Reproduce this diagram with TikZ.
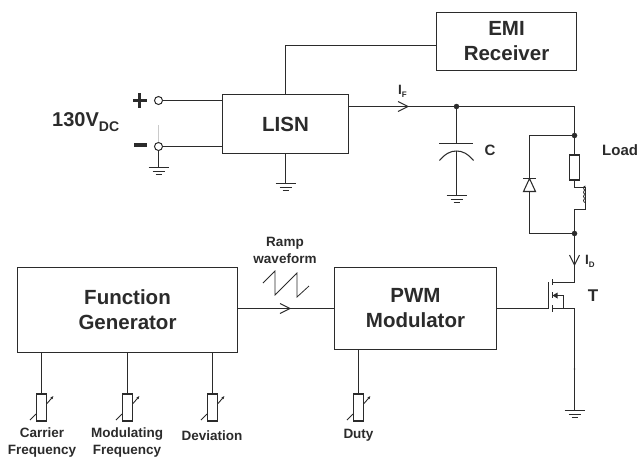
\documentclass[tikz,border=0pt]{standalone}
\usepackage{fontspec}
\setmainfont{Liberation Sans}
\usetikzlibrary{arrows.meta,calc}
\definecolor{ink}{HTML}{2B2B2B}
\tikzset{
  wire/.style={draw=ink,line width=1.05pt},
  blockbox/.style={draw=ink,line width=1.2pt,fill=white,inner sep=0pt,align=center,font=\bfseries\fontsize{20.5}{25}\selectfont,text=ink},
  lbl/.style={inner sep=0pt,align=center,font=\bfseries\fontsize{13.5}{17}\selectfont,text=ink},
  biglbl/.style={inner sep=0pt,font=\bfseries\fontsize{15}{18}\selectfont,text=ink},
  termc/.style={circle,draw=ink,line width=1pt,fill=white,minimum size=8pt,inner sep=0pt},
  jdot/.style={circle,fill=ink,minimum size=5.5pt,inner sep=0pt},
}
\newcommand{\gndsym}[1]{%
  \draw[wire] ($(#1)+(-10,0)$) -- ($(#1)+(10,0)$);
  \draw[wire] ($(#1)+(-6,4)$) -- ($(#1)+(6,4)$);
  \draw[wire] ($(#1)+(-3,7)$) -- ($(#1)+(3,7)$);}
\newcommand{\potsym}[2]{%
  \node[draw=ink,line width=1.05pt,fill=white,minimum width=10pt,minimum height=27pt,inner sep=0pt] (#2) at (#1,407.5) {};
  \draw[wire,line width=.9pt] (#1-11.5,420) -- (#1-5.5,414);
  \draw[wire,line width=.9pt,-{Latex[length=3pt,width=3pt]}] (#1+5.5,403.5) -- (#1+12,396);}
\begin{document}
\begin{tikzpicture}[x=1pt,y=-1pt]
\useasboundingbox (0,0) rectangle (638,459);
% blocks
\node[blockbox,minimum width=140pt,minimum height=58pt] (emi) at (506.5,41.5) {EMI\\Receiver};
\node[blockbox,minimum width=126pt,minimum height=59pt] (lisn) at (285.5,124) {LISN};
\node[blockbox,minimum width=220pt,minimum height=85pt] (fg) at (127.5,310) {Function\\Generator};
\node[blockbox,minimum width=162pt,minimum height=82pt] (pwm) at (415.5,308.5) {PWM\\Modulator};
% EMI to LISN
\coordinate (emic) at (285.5,45.5);
\draw[wire] (lisn.north) -- (emic) -- (emi.west |- emic);
% terminals
\node[termc] (tp) at (158.5,100.5) {};
\node[termc] (tm) at (158.5,146.5) {};
\draw[wire] (tp) -- (tp -| lisn.west);
\draw[wire] (tm) -- (tm -| lisn.west);
\draw[draw=ink!25,line width=.8pt] (158.5,125) -- (tm.north);
\coordinate (g1) at (158.5,167.5);
\draw[wire] (tm) -- (g1); \gndsym{g1}
\coordinate (g2) at (285.5,183.5);
\draw[wire] (lisn.south) -- (g2); \gndsym{g2}
\node[fill=ink,minimum width=14pt,minimum height=3.6pt,inner sep=0pt] (plush) at (139.5,100.5) {};
\node[fill=ink,minimum width=3.6pt,minimum height=15pt,inner sep=0pt] (plusv) at (139.5,100.5) {};
\node[fill=ink,minimum width=13pt,minimum height=4.5pt,inner sep=0pt] (minus) at (140,145) {};
\node[anchor=base west,inner sep=0pt,font=\bfseries\fontsize{20}{24}\selectfont,text=ink] (vdc) at (52,126) {130V\raisebox{-5pt}{\fontsize{14}{14}\selectfont DC}};
% top rail
\coordinate (lo) at (lisn.east |- 0,106.5);
\node[jdot] (jc) at (456.5,106.5) {};
\coordinate (corner) at (574.5,106.5);
\draw[wire] (lo) -- (jc) -- (corner);
\coordinate (af) at (408,106.5);
\draw[wire,line join=miter] (398,101.5) -- (af) -- (398,111.5);
\node[lbl,anchor=base west] (if) at (398,94) {I\raisebox{-3pt}{\fontsize{8}{8}\selectfont F}};
% capacitor
\coordinate (cp1) at (456.5,143.5);
\coordinate (cp2) at (456.5,151);
\coordinate (g3) at (456.5,195.5);
\draw[wire] (jc) -- (cp1);
\draw[wire] (439,143.5) -- (473,143.5);
\draw[wire] (439.5,160.5) .. controls (445.5,153.5) and (450.5,151) .. (cp2) .. controls (462.5,151) and (467.5,153.5) .. (473.5,160.5);
\draw[wire,line width=1.6pt] (cp2) -- (g3); \gndsym{g3}
\node[biglbl] (clbl) at (490,150) {C};
% load
\node[jdot] (j1) at (574.5,135.5) {};
\node[jdot] (j2) at (574.5,233.5) {};
\node[draw=ink,line width=1.05pt,fill=white,minimum width=10pt,minimum height=25pt,inner sep=0pt] (res) at (574.5,167.5) {};
\draw[wire] (corner) -- (j1) -- (res.north);
\coordinate (l1) at (574.5,187.5);
\coordinate (l2) at (574.5,209.5);
\draw[wire,line join=miter] (res.south) -- (l1) -- (585.5,187.5) -- (585.5,209.5) -- (l2) -- (j2);
\foreach \yy in {192,196.2,200.4,204.6}{
  \draw[draw=ink,line width=.8pt] (585.5,\yy-2) arc[start angle=90,end angle=270,radius=2];
}
\node[biglbl,anchor=west] (load) at (602,150) {Load};
% diode
\coordinate (dl) at (529.5,135.5);
\coordinate (dr) at (529.5,233.5);
\draw[wire] (j1) -- (dl) -- (529.5,178.5);
\draw[wire] (529.5,191.5) -- (dr) -- (j2);
\draw[wire,line join=miter] (529.5,178.5) -- (523.5,191.5) -- (535.5,191.5) -- cycle;
\draw[wire] (523,178.5) -- (536,178.5);
% drain current
\coordinate (drain) at (574.5,282.5);
\draw[wire] (j2) -- (drain);
\draw[wire] (569.5,255) -- (574.5,265) -- (579.5,255);
\node[lbl,anchor=base west] (id) at (585,264) {I\raisebox{-3pt}{\fontsize{8}{8}\selectfont D}};
% MOSFET
\coordinate (source) at (574.5,308.5);
\coordinate (gate) at (548.5,308.5);
\coordinate (g4) at (574.5,410.5);
\draw[wire] (pwm.east |- gate) -- (gate);
\draw[wire,line width=1.2pt] (548.5,282) -- (548.5,309);
\draw[wire] (drain) -- (552.5,282.5);
\draw[wire] (source) -- (552.5,308.5);
\draw[wire] (552.5,279) -- (552.5,285);
\draw[wire] (552.5,292) -- (552.5,298);
\draw[wire] (552.5,305) -- (552.5,312);
\draw[wire] (563.5,308.5) -- (563.5,295.5) -- (552.5,295.5);
\fill[ink] (552.5,295.5) -- (557.5,292.5) -- (557.5,298.5) -- cycle;
\draw[wire] (source) -- (g4); \gndsym{g4}
\fill[ink] (574.5,369) circle (.9);
\node[biglbl,font=\bfseries\fontsize{17}{18}\selectfont] (tlbl) at (593,295.5) {T};
% ramp
\coordinate (fo) at (fg.east |- 0,308.5);
\draw[wire] (fo) -- (fo -| pwm.west);
\draw[wire] (280,303.5) -- (290,308.5) -- (280,313.5);
\draw[draw=ink,line width=.8pt,line join=miter] (263,283) -- (275,271) -- (275,295) -- (297,273) -- (297,297) -- (309,286);
\node[lbl] (ramp) at (285,250) {Ramp\\waveform};
% pots
\potsym{41.5}{p1}
\potsym{127.5}{p2}
\potsym{212.5}{p3}
\potsym{358.5}{p4}
\draw[wire] (p1.north |- fg.south) -- (p1.north);
\draw[wire] (p2.north |- fg.south) -- (p2.north);
\draw[wire] (p3.north |- fg.south) -- (p3.north);
\draw[wire] (p4.north |- pwm.south) -- (p4.north);
\node[lbl] (t1) at (42,443) {Carrier\\Frequency};
\node[lbl] (t2) at (127,443) {Modulating\\Frequency};
\node[lbl] (t3) at (212,436) {Deviation};
\node[lbl] (t4) at (358.5,435.5) {Duty};
\end{tikzpicture}
\end{document}
